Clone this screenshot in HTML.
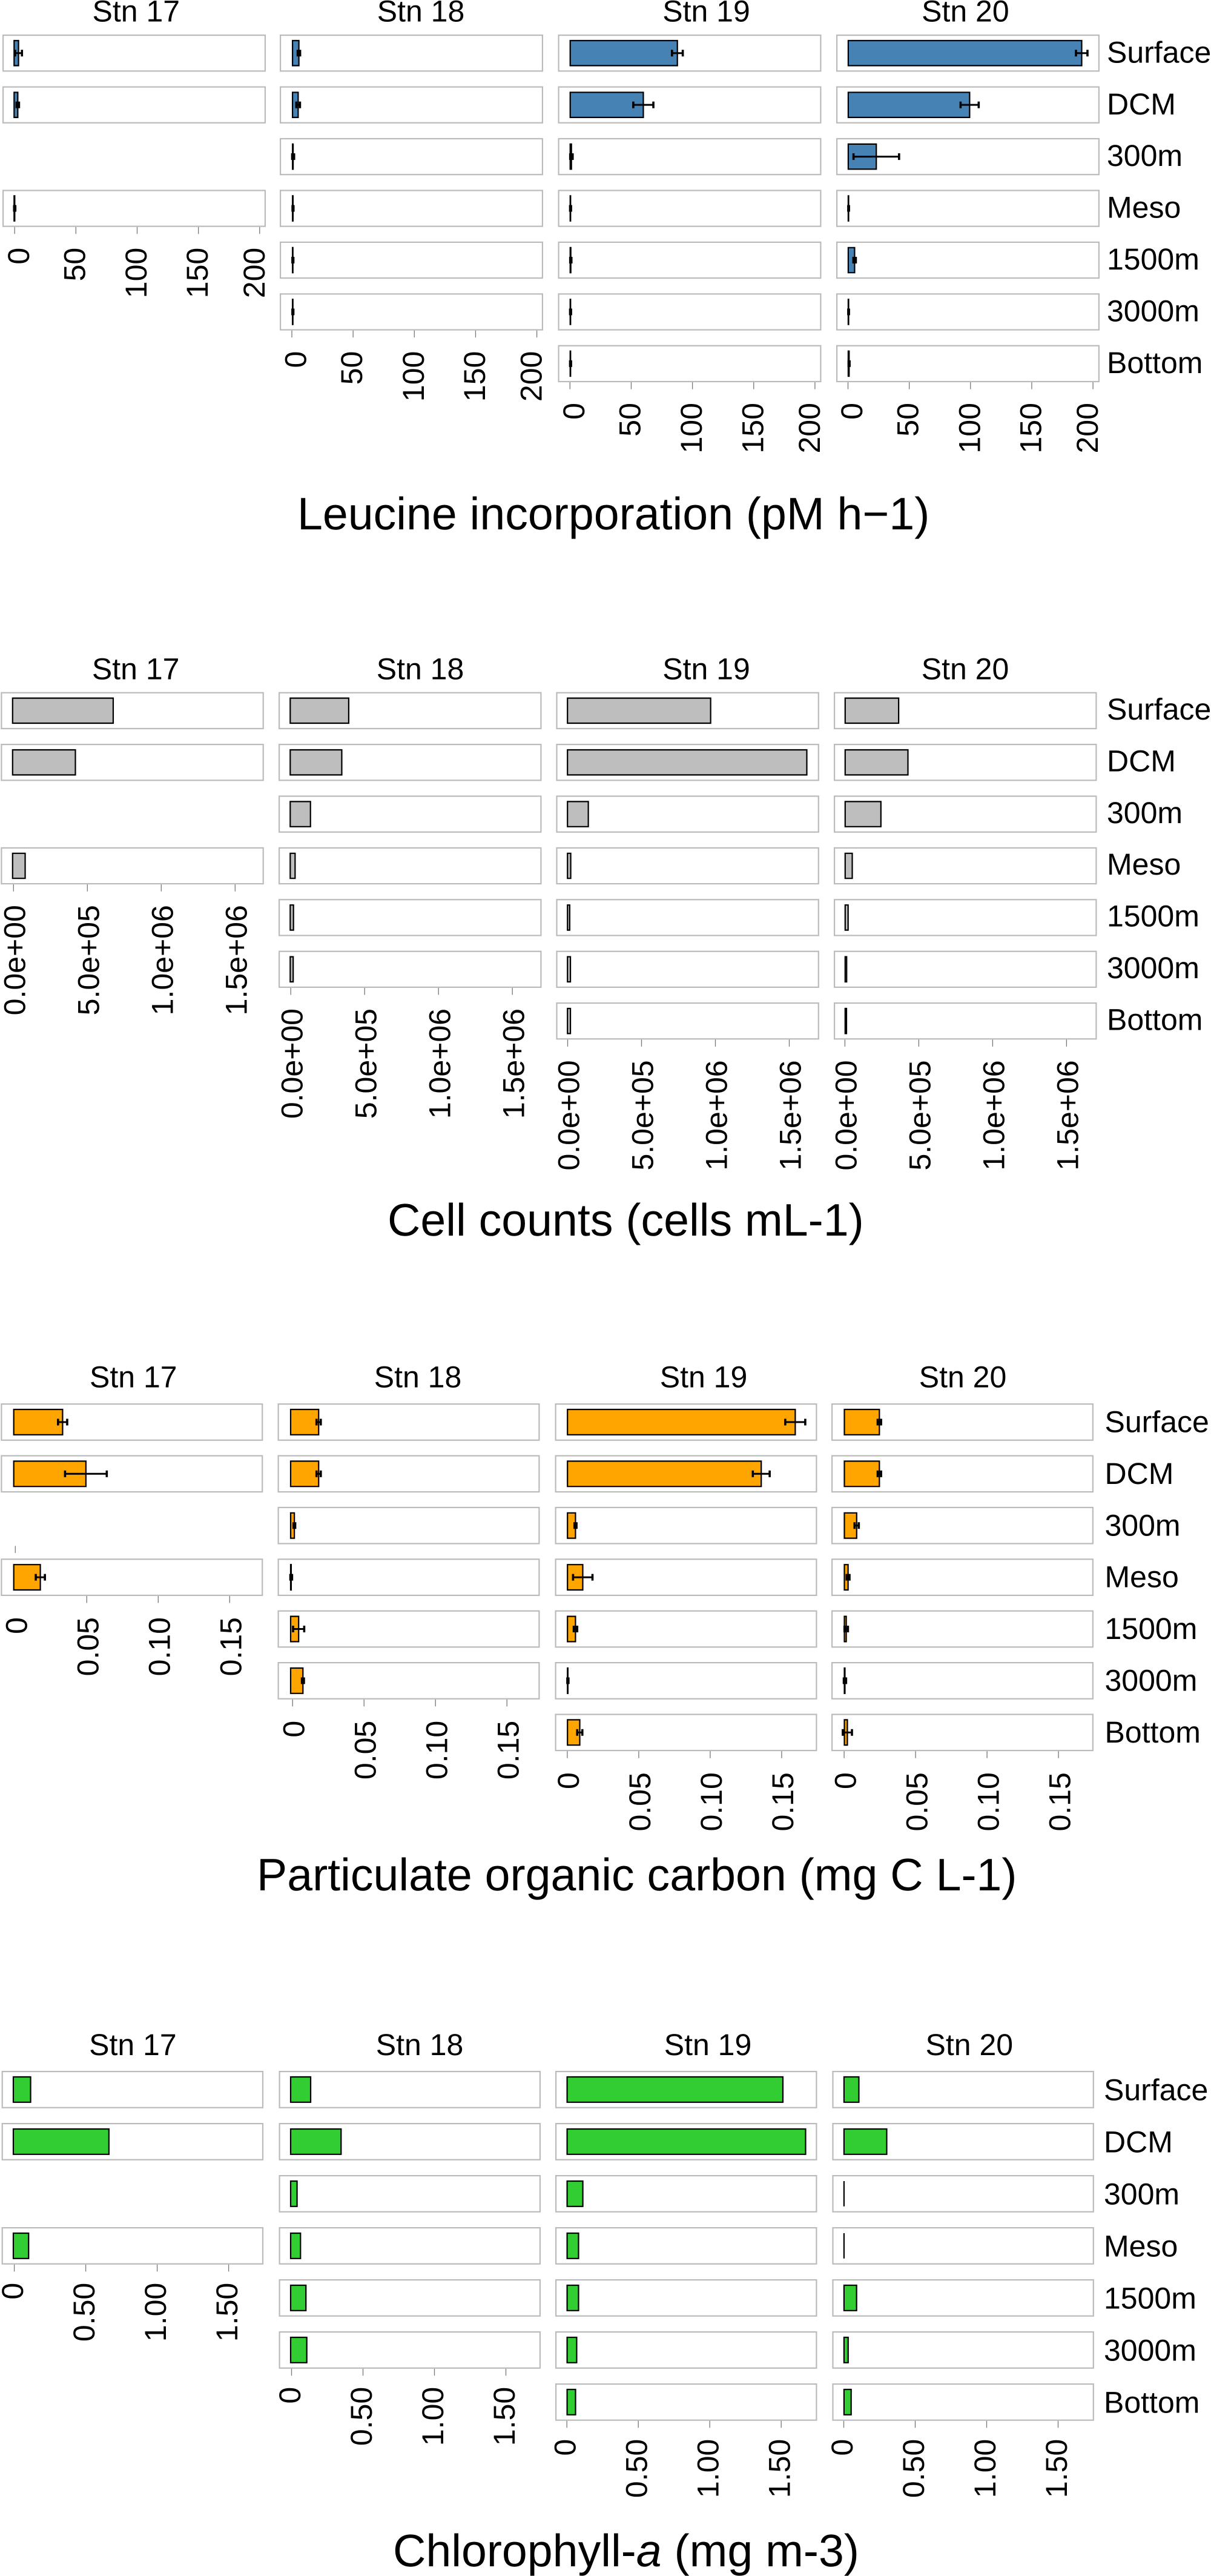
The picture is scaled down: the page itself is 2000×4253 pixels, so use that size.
<!DOCTYPE html>
<html lang="en">
<head>
<meta charset="utf-8">
<title>Station depth profiles</title>
<style>
html,body{margin:0;padding:0;background:#fff}
svg{display:block}
text{font-family:"Liberation Sans",Arial,sans-serif;fill:#000;text-rendering:geometricPrecision}
</style>
</head>
<body>
<svg id="figure" xmlns="http://www.w3.org/2000/svg" width="2000" height="4253" viewBox="0 0 2000 4253">
<rect width="2000" height="4253" fill="#fff"/>
<text x="491" y="874" font-size="75.3">Leucine incorporation (pM h−1)</text>
<text x="640" y="2040" font-size="75.3">Cell counts (cells mL-1)</text>
<text x="424" y="3121" font-size="75.3">Particulate organic carbon (mg C L-1)</text>
<text x="649" y="4237" font-size="75.3">Chlorophyll-<tspan font-style="italic">a</tspan> (mg m-3)</text>
</svg>
<script>
const stations = ["Stn 17", "Stn 18", "Stn 19", "Stn 20"];
const depths = ["Surface", "DCM", "300m", "Meso", "1500m", "3000m", "Bottom"];

const leucineStn17 = [3.6, 3.0, null, 0.5, null, null, null];
const leucineStn18 = [5.2, 4.6, 0.5, 0.4, 0.3, 0.3, null];
const leucineStn19 = [87.5, 59.7, 1.0, 0.3, 0.5, 0.3, 0.3];
const leucineStn20 = [190.6, 99.1, 22.9, 0.3, 5.2, 0.3, 0.7];
const leucineErrStn17 = [2.8, 1.0, null, 0.5, null, null, null];
const leucineErrStn18 = [1.0, 1.5, 0.8, 0.4, 0.4, 0.4, null];
const leucineErrStn19 = [4.4, 8.2, 1.0, 0.4, 0.5, 0.4, 0.4];
const leucineErrStn20 = [4.7, 7.4, 18.6, 0.3, 1.0, 0.3, 0.4];
const leucineTickValues = [0, 50, 100, 150, 200];
const leucineTickLabels = ["0", "50", "100", "150", "200"];

const cellStn17 = [681000, 425000, null, 85000, null, null, null];
const cellStn18 = [396000, 349000, 137000, 33000, 22000, 20000, null];
const cellStn19 = [969000, 1620000, 141000, 22000, 15000, 20000, 20000];
const cellStn20 = [362000, 425000, 242000, 48000, 20000, 10000, 9000];
const cellTickValues = [0, 500000, 1000000, 1500000];
const cellTickLabels = ["0.0e+00", "5.0e+05", "1.0e+06", "1.5e+06"];

const pocStn17 = [0.0342, 0.0505, null, 0.0186, null, null, null];
const pocStn18 = [0.0196, 0.0196, 0.0026, 0.0004, 0.0056, 0.0086, null];
const pocStn19 = [0.1594, 0.1356, 0.0056, 0.0107, 0.0056, 0.0003, 0.0086];
const pocStn20 = [0.0245, 0.0245, 0.0086, 0.0026, 0.0013, 0.0004, 0.0021];
const pocErrStn17 = [0.0032, 0.0146, null, 0.0032, null, null, null];
const pocErrStn18 = [0.0015, 0.0015, 0.0006, 0.0006, 0.0039, 0.0007, null];
const pocErrStn19 = [0.007, 0.0059, 0.0007, 0.0068, 0.0012, 0.0004, 0.0018];
const pocErrStn20 = [0.0012, 0.0012, 0.0015, 0.001, 0.0012, 0.0008, 0.0032];
const pocTickValues = [0, 0.05, 0.1, 0.15];
const pocTickLabels = ["0", "0.05", "0.10", "0.15"];

const chlStn17 = [0.121, 0.669, null, 0.107, null, null, null];
const chlStn18 = [0.14, 0.353, 0.045, 0.069, 0.107, 0.113, null];
const chlStn19 = [1.51, 1.669, 0.11, 0.08, 0.08, 0.067, 0.059];
const chlStn20 = [0.104, 0.299, 0, 0, 0.088, 0.029, 0.05];
const chlTickValues = [0, 0.5, 1, 1.5];
const chlTickLabels = ["0", "0.50", "1.00", "1.50"];

const SVGNS = "http://www.w3.org/2000/svg";
const figure = document.getElementById("figure");

function make(parent, tag, attrs) {
  const el = document.createElementNS(SVGNS, tag);
  for (const k in attrs) el.setAttribute(k, attrs[k]);
  parent.appendChild(el);
  return el;
}

function drawChart(cfg) {
  const chart = make(figure, "g", {});
  
  

  stations.forEach(function (stn, s) {
    const xAxis = function (v) { return cfg.barOrigin[s] + 1 + v * cfg.scale; };
    const tickAxis = function (v) { return cfg.tickOrigin[s] + v * cfg.scale; };

    const title = make(chart, "text", {
      x: cfg.titleX[s], y: cfg.titleY, "font-size": 50, "text-anchor": "middle"
    });
    
    
    title.textContent = stn;

    let lastRow = 0;
    depths.forEach(function (depth, d) {
      const v = cfg.values[s][d];
      if (v === null) return;
      lastRow = d;
      const rowTop = cfg.top + d * cfg.pitch;

      const panel = make(chart, "rect", {
        x: cfg.left[s] + 1.1, y: rowTop + 1.1, width: cfg.panelW - 2.2, height: cfg.rowH - 2.2,
        fill: "#fff", stroke: "#bbbbbb", "stroke-width": 2.2
      });
      
      

      const bar = make(chart, "path", {
        d: "M" + xAxis(0) + " " + (rowTop + 10) + "H" + xAxis(v) + "V" + (rowTop + cfg.rowH - 10) + "H" + xAxis(0) + "Z",
        fill: cfg.color, stroke: "#000", "stroke-width": 2.2, "stroke-linejoin": "miter"
      });
      
      

      if (cfg.errors) {
        const e = cfg.errors[s][d];
        const yMid = rowTop + cfg.rowH / 2;
        const errLine = make(chart, "path", {
          d: "M" + xAxis(v - e) + " " + yMid + "H" + xAxis(v + e),
          stroke: "#000", "stroke-width": 3, fill: "none"
        });
        
        
        [v - e, v + e].forEach(function (end) {
          const cap = make(chart, "path", {
            d: "M" + xAxis(end) + " " + (yMid - 5.5) + "V" + (yMid + 5.5),
            stroke: "#000", "stroke-width": 3.6, fill: "none"
          });
          
          
        });
      }

      if (s === stations.length - 1) {
        const rowLabel = make(chart, "text", {
          x: cfg.labelX, y: rowTop + cfg.labelDy, "font-size": 50
        });
        
        
        rowLabel.textContent = depth;
      }
    });

    const axisY = cfg.top + lastRow * cfg.pitch + cfg.rowH;
    cfg.tickValues.forEach(function (tv, i) {
      const tx = tickAxis(tv);
      const raised = cfg.raisedZeroTick && s === 0 && i === 0;
      const y1 = raised ? cfg.raisedZeroTick : axisY;
      const tick = make(chart, "path", {
        d: "M" + tx + " " + y1 + "v11.5", stroke: "#777", "stroke-width": 1.3, fill: "none"
      });
      
      

      const lx = tx + cfg.labelNudge[i] + 18;
      const ly = axisY + cfg.tickLabelGap;
      const tl = make(chart, "text", {
        transform: "translate(" + lx + " " + ly + ") rotate(-90)",
        "font-size": 50, "text-anchor": "end"
      });
      
      
      tl.textContent = cfg.tickLabels[i];
    });
  });
}

drawChart({
  id: "leucine", color: "#4682B4",
  values: [leucineStn17, leucineStn18, leucineStn19, leucineStn20],
  errors: [leucineErrStn17, leucineErrStn18, leucineErrStn19, leucineErrStn20],
  tickValues: leucineTickValues, tickLabels: leucineTickLabels,
  scale: 2.023, top: 57, pitch: 85.45, rowH: 61.4, panelW: 435,
  left: [4, 462, 921.5, 1381],
  barOrigin: [22.3, 482.1, 940.7, 1399.9],
  tickOrigin: [24.2, 482, 941.3, 1400.5],
  titleX: [224.8, 695, 1166.5, 1594.4], titleY: 35.6,
  labelX: 1828, labelDy: 46.3,
  labelNudge: [5.7, -3, -2.5, -2.5, -10], tickLabelGap: 34
});

drawChart({
  id: "cell-counts", color: "#BEBEBE",
  values: [cellStn17, cellStn18, cellStn19, cellStn20],
  errors: null,
  tickValues: cellTickValues, tickLabels: cellTickLabels,
  scale: 0.000244, top: 1142.6, pitch: 85.4, rowH: 61.4, panelW: 434.5,
  left: [1.3, 460, 918.4, 1377],
  barOrigin: [19.8, 478.3, 936.2, 1394.8],
  tickOrigin: [22.3, 480.2, 937.5, 1395.4],
  titleX: [224.2, 694, 1166.5, 1594], titleY: 1121.4,
  labelX: 1828, labelDy: 45.4,
  labelNudge: [1.2, 1.2, 1.2, 1.2], tickLabelGap: 34
});

drawChart({
  id: "poc", color: "#FFA500",
  values: [pocStn17, pocStn18, pocStn19, pocStn20],
  errors: [pocErrStn17, pocErrStn18, pocErrStn19, pocErrStn20],
  tickValues: pocTickValues, tickLabels: pocTickLabels,
  scale: 2360, top: 2317, pitch: 85.4, rowH: 61.8, panelW: 433,
  left: [1.3, 458.5, 916.5, 1373],
  barOrigin: [21.7, 479, 936.2, 1393.5],
  tickOrigin: [25.3, 483.2, 936.9, 1394.1],
  titleX: [220.3, 690, 1162, 1590], titleY: 2290.6,
  labelX: 1824.5, labelDy: 47.5,
  labelNudge: [1.3, 1.3, 1.3, 1.3], tickLabelGap: 35,
  raisedZeroTick: 2552.4
});

drawChart({
  id: "chlorophyll", color: "#32CD32",
  values: [chlStn17, chlStn18, chlStn19, chlStn20],
  errors: null,
  tickValues: chlTickValues, tickLabels: chlTickLabels,
  scale: 236, top: 3419, pitch: 86, rowH: 61.8, panelW: 432.5,
  left: [2.6, 460.5, 917, 1374.4],
  barOrigin: [21, 479, 935.6, 1392.9],
  tickOrigin: [23.6, 481.5, 936.2, 1393.5],
  titleX: [219.4, 693, 1169, 1600.8], titleY: 3393,
  labelX: 1823, labelDy: 48.5,
  labelNudge: [-3.5, -3.5, -3.5, -3.5], tickLabelGap: 30
});
</script>
</body>
</html>
